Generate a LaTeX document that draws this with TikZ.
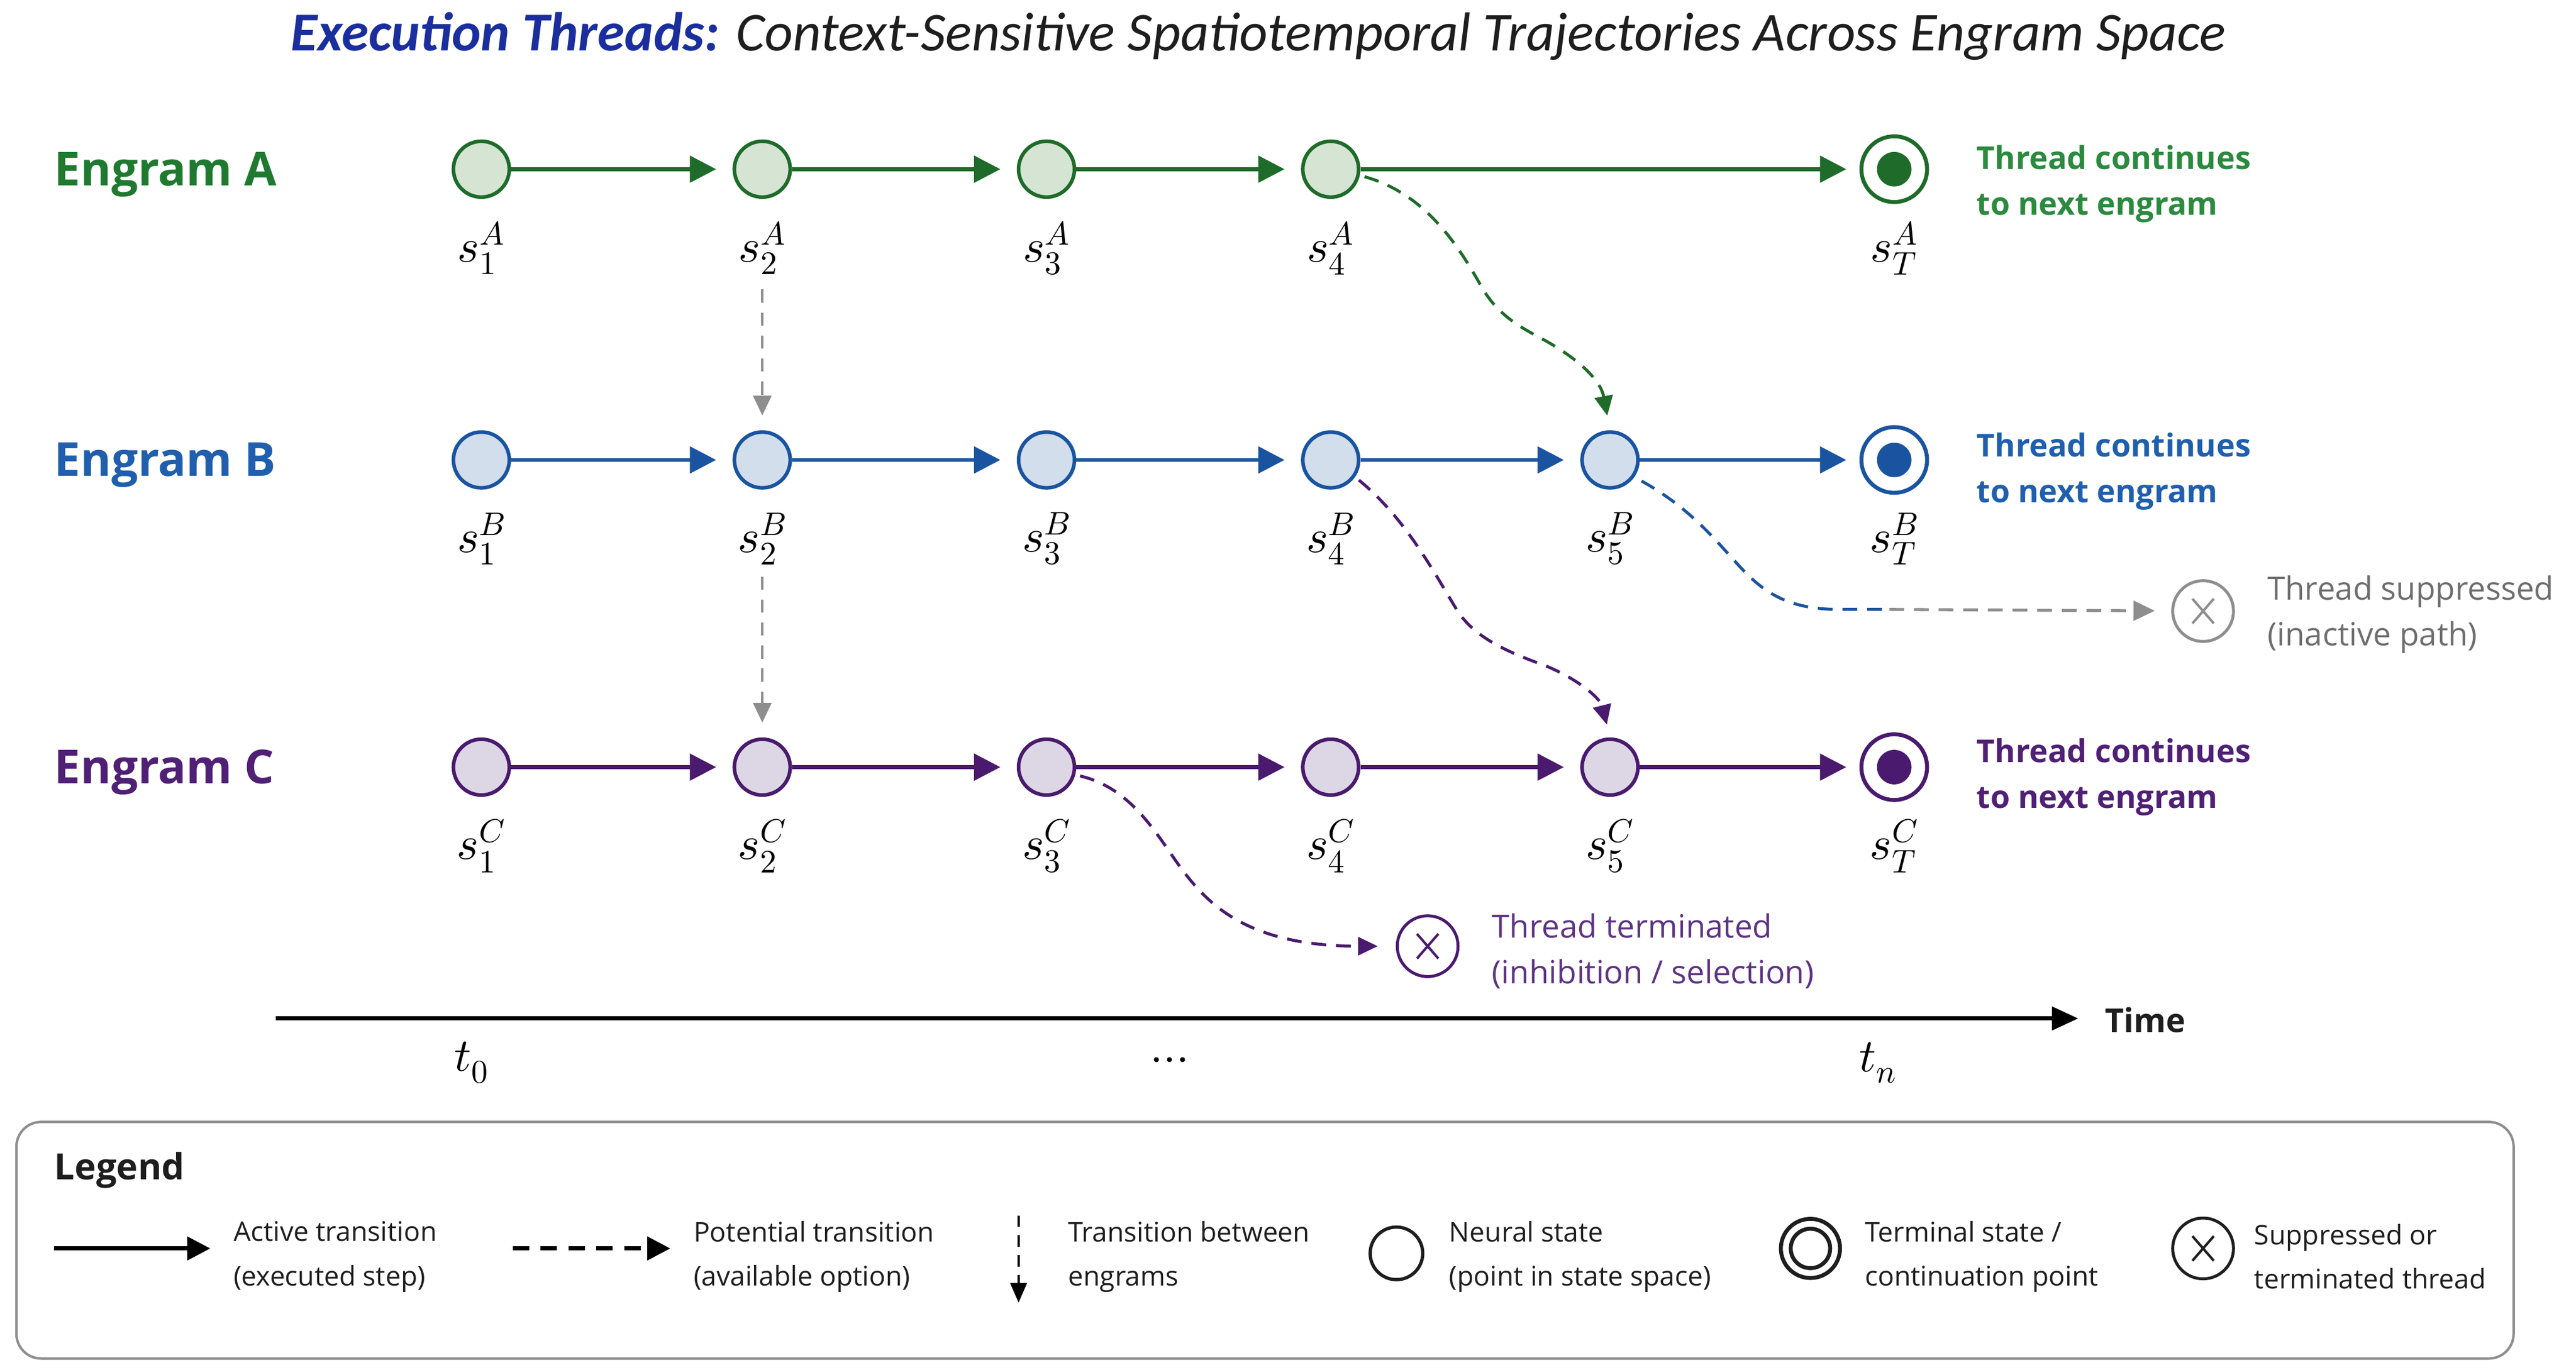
\documentclass[tikz,border=0pt]{standalone}
\usepackage{fontspec}
\usepackage{unicode-math}
\setmainfont{Open Sans}
\setmathfont{Latin Modern Math}
\newfontfamily\titlefont{Carlito}
\usetikzlibrary{arrows.meta}
\definecolor{gA}{HTML}{1E6B2A}
\definecolor{gAf}{HTML}{D6E4D4}
\definecolor{gAt}{HTML}{1F7A30}
\definecolor{gAt2}{HTML}{2B8A3E}
\definecolor{bB}{HTML}{1A54A0}
\definecolor{bBf}{HTML}{D2DEEC}
\definecolor{bBt}{HTML}{1F5FAE}
\definecolor{pC}{HTML}{4A1A6E}
\definecolor{pCf}{HTML}{DDD7E5}
\definecolor{pCt}{HTML}{4F2075}
\definecolor{pCt2}{HTML}{5E3384}
\definecolor{ttl}{HTML}{1B2E9E}
\definecolor{gry}{HTML}{8E8E8E}
\definecolor{grytxt}{HTML}{6E6E6E}
\definecolor{txt}{HTML}{1E1E1E}
\begin{document}
\begin{tikzpicture}[x=1pt,y=-1pt,
  st/.style={circle, line width=2.2pt, minimum size=34pt, inner sep=0pt},
  stA/.style={st, draw=gA, fill=gAf},
  stB/.style={st, draw=bB, fill=bBf},
  stC/.style={st, draw=pC, fill=pCf},
  term/.style={circle, draw=#1, line width=2.4pt, minimum size=40pt, inner sep=0pt, fill=white,
    path picture={\fill[#1] (path picture bounding box.center) circle (10.5pt);}},
  xn/.style={circle, draw=#1, line width=1.8pt, minimum size=37pt, inner sep=0pt, fill=white,
    path picture={\draw[#1, line width=1.5pt]
      ([shift={(-6.5pt,-7.5pt)}]path picture bounding box.center) -- ([shift={(6.5pt,7.5pt)}]path picture bounding box.center)
      ([shift={(-6.5pt,7.5pt)}]path picture bounding box.center) -- ([shift={(6.5pt,-7.5pt)}]path picture bounding box.center);}},
  lbl/.style={inner sep=0pt, font=\fontsize{28.5}{32}\selectfont},
  eng/.style={anchor=base west, inner sep=0pt, font=\fontsize{28.5}{34}\selectfont\bfseries},
  cont/.style={anchor=west, inner sep=0pt, align=left, font=\fontsize{19.2}{28}\selectfont\bfseries},
  note/.style={anchor=west, inner sep=0pt, align=left, font=\fontsize{19.5}{28}\selectfont},
  act/.style={-{Triangle[length=16pt,width=16pt]}, line width=2.4pt, shorten >=10pt},
  pot/.style={-{Triangle[length=12pt,width=11pt]}, line width=1.8pt, dash pattern=on 9pt off 6pt},
  vt/.style={-{Triangle[length=12pt,width=11pt]}, draw=gry, line width=1.6pt, dash pattern=on 8pt off 6pt},
  leg/.style={anchor=west, inner sep=0pt, align=left, text=txt, font=\fontsize{16.5}{27}\selectfont}
]
\useasboundingbox (0,0) rectangle (1568,834);

% title
\node[inner sep=0pt] (title) at (766,22) {\titlefont\itshape\fontsize{33.4}{38}\selectfont{\bfseries\color{ttl}Execution Threads:} \color{txt}Context-Sensitive Spatiotemporal Trajectories Across Engram Space};

% engram labels
\node[eng, text=gAt] (EA) at (33,113) {Engram A};
\node[eng, text=bBt] (EB) at (33,290) {Engram B};
\node[eng, text=pCt] (EC) at (33,477) {Engram C};

% row A
\node[stA] (a1) at (293,103) {};
\node[stA] (a2) at (464,103) {};
\node[stA] (a3) at (637,103) {};
\node[stA] (a4) at (810,103) {};
\node[term=gA] (aT) at (1153,103) {};
% row B
\node[stB] (b1) at (293,280) {};
\node[stB] (b2) at (464,280) {};
\node[stB] (b3) at (637,280) {};
\node[stB] (b4) at (810,280) {};
\node[stB] (b5) at (980,280) {};
\node[term=bB] (bT) at (1153,280) {};
% row C
\node[stC] (c1) at (293,467) {};
\node[stC] (c2) at (464,467) {};
\node[stC] (c3) at (637,467) {};
\node[stC] (c4) at (810,467) {};
\node[stC] (c5) at (980,467) {};
\node[term=pC] (cT) at (1153,467) {};

% state labels
\node[lbl] (la1) at (293,151) {$s_1^A$};
\node[lbl] (la2) at (464,151) {$s_2^A$};
\node[lbl] (la3) at (637,151) {$s_3^A$};
\node[lbl] (la4) at (810,151) {$s_4^A$};
\node[lbl] (laT) at (1153,151) {$s_T^A$};
\node[lbl] (lb1) at (293,328) {$s_1^B$};
\node[lbl] (lb2) at (464,328) {$s_2^B$};
\node[lbl] (lb3) at (637,328) {$s_3^B$};
\node[lbl] (lb4) at (810,328) {$s_4^B$};
\node[lbl] (lb5) at (980,328) {$s_5^B$};
\node[lbl] (lbT) at (1153,328) {$s_T^B$};
\node[lbl] (lc1) at (293,515) {$s_1^C$};
\node[lbl] (lc2) at (464,515) {$s_2^C$};
\node[lbl] (lc3) at (637,515) {$s_3^C$};
\node[lbl] (lc4) at (810,515) {$s_4^C$};
\node[lbl] (lc5) at (980,515) {$s_5^C$};
\node[lbl] (lcT) at (1153,515) {$s_T^C$};

% active transitions
\draw[act, gA] (a1) -- (a2);
\draw[act, gA] (a2) -- (a3);
\draw[act, gA] (a3) -- (a4);
\draw[act, gA, shorten >=8pt] (a4) -- (aT);
\draw[act, bB] (b1) -- (b2);
\draw[act, bB] (b2) -- (b3);
\draw[act, bB] (b3) -- (b4);
\draw[act, bB] (b4) -- (b5);
\draw[act, bB, shorten >=8pt] (b5) -- (bT);
\draw[act, pC] (c1) -- (c2);
\draw[act, pC] (c2) -- (c3);
\draw[act, pC] (c3) -- (c4);
\draw[act, pC] (c4) -- (c5);
\draw[act, pC, shorten >=8pt] (c5) -- (cT);

% between engrams (vertical)
\draw[vt, shorten <=9pt, shorten >=9pt] (la2.south) -- (b2.north);
\draw[vt, shorten <=7pt, shorten >=9pt] (lb2.south) -- (c2.north);

% potential transitions
\draw[pot, gA, shorten <=3pt, shorten >=9pt] (a4.-12) .. controls (868,118) and (888,150) .. (902,175)
   .. controls (912,192) and (925,199) .. (940,207) .. controls (958,217) and (974,230) .. (b5.north);
\draw[pot, pC, shorten <=3pt, shorten >=8pt] (b4.-35) .. controls (855,315) and (872,347) .. (886,370)
   .. controls (896,387) and (915,396) .. (940,405) .. controls (960,413) and (974,425) .. (c5.north);

% suppressed thread
\node[xn=gry] (xs) at (1341,372) {};
\coordinate (bj) at (1150,371);
\draw[pot, bB, -, shorten <=5pt] (b5.-35) .. controls (1030,310) and (1045,330) .. (1060,346)
   .. controls (1075,362) and (1090,371) .. (1120,371) -- (bj);
\draw[pot, gry, -{Triangle[length=13pt,width=12pt]}, shorten >=10pt] (bj) -- (xs);
\node[note, text=grytxt] (ts) at (1380,374) {Thread suppressed\\(inactive path)};

% terminated thread
\node[xn=pC] (xt) at (869,576) {};
\draw[pot, pC, shorten <=3pt, shorten >=11pt] (c3.-15) .. controls (690,480) and (705,510) .. (720,530)
   .. controls (736,551) and (760,576) .. (xt.west);
\node[note, text=pCt2] (tt) at (908,579) {Thread terminated\\(inhibition / selection)};

% continuation texts
\node[cont, text=gAt2] (ca) at (1203,112) {Thread continues\\to next engram};
\node[cont, text=bBt] (cb) at (1203,287) {Thread continues\\to next engram};
\node[cont, text=pCt] (cc) at (1203,473) {Thread continues\\to next engram};

% time axis
\coordinate (t0a) at (168,620);
\coordinate (t1a) at (1265,620);
\draw[line width=2.5pt, -{Triangle[length=16pt,width=14pt]}] (t0a) -- (t1a);
\node[anchor=west, inner sep=0pt, font=\fontsize{20}{24}\selectfont\bfseries, text=txt] (time) at (1281,621) {Time};
\node[lbl] (t0) at (287,647) {$t_0$};
\node[lbl] (tdots) at (712,648) {$\cdots$};
\node[lbl] (tn) at (1143,647) {$t_n$};

% legend
\node[draw=gry, line width=1.5pt, rounded corners=15pt, minimum width=1520pt, minimum height=144pt, inner sep=0pt] (legbox) at (770,755) {};
\node[anchor=base west, inner sep=0pt, font=\fontsize{22}{26}\selectfont\bfseries, text=txt] (legt) at (33,718) {Legend};

\coordinate (l1a) at (33,760);
\coordinate (l1b) at (128,760);
\draw[line width=2.5pt, -{Triangle[length=14pt,width=14pt]}] (l1a) -- (l1b);
\node[leg] (lt1) at (142,765) {Active transition\\(executed step)};

\coordinate (l2a) at (312,760);
\coordinate (l2b) at (408,760);
\draw[line width=2.5pt, dash pattern=on 10pt off 7pt, -{Triangle[length=14pt,width=14pt]}] (l2a) -- (l2b);
\node[leg] (lt2) at (422,765) {Potential transition\\(available option)};

\coordinate (l3a) at (620,740);
\coordinate (l3b) at (620,793);
\draw[line width=1.5pt, dash pattern=on 7pt off 5pt, -{Triangle[length=12pt,width=10pt]}] (l3a) -- (l3b);
\node[leg] (lt3) at (650,765) {Transition between\\engrams};

\node[circle, draw=txt, line width=2pt, minimum size=32pt, inner sep=0pt] (l4) at (850,763) {};
\node[leg] (lt4) at (882,765) {Neural state\\(point in state space)};

\node[circle, draw=txt, line width=2.4pt, minimum size=36pt, inner sep=0pt] (l5) at (1102,760) {};
\node[circle, draw=txt, line width=2.4pt, minimum size=24pt, inner sep=0pt] (l5i) at (1102,760) {};
\node[leg] (lt5) at (1135,765) {Terminal state /\\continuation point};

\node[xn=txt] (l6) at (1341,760) {};
\node[leg] (lt6) at (1372,765) {Suppressed or\\terminated thread};
\end{tikzpicture}
\end{document}
